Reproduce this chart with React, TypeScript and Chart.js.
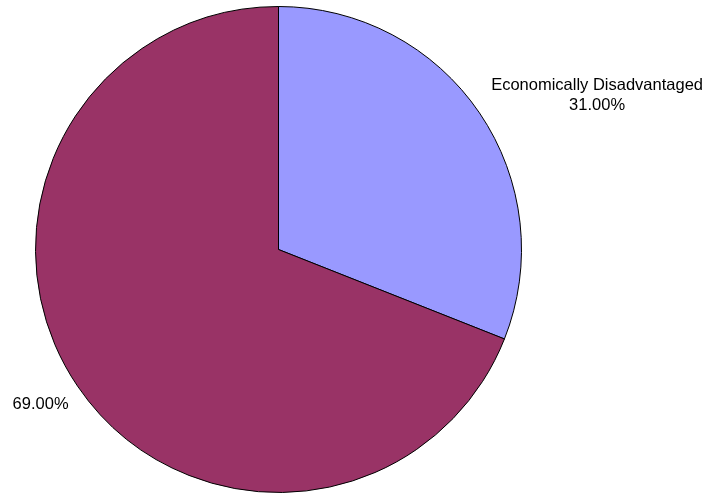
import React, { useEffect, useRef } from "react";
import { Chart, registerables } from "chart.js";

Chart.register(...registerables);

const categories = ["Economically Disadvantaged", ""];
const values = [31.0, 69.0];
const colors = ["#9999FF", "#993366"];

// label anchors relative to pie center, in units of radius
const labelOffsets = [
  { dx: 1.311, dy: -0.635 },
  { dx: -0.979, dy: 0.636 },
];

const labelPlugin = {
  id: "sliceLabels",
  afterDatasetsDraw(chart: any) {
    const ctx = chart.ctx;
    const meta = chart.getDatasetMeta(0);
    ctx.save();
    ctx.font = "16.5px 'Liberation Sans', Arial, sans-serif";
    ctx.fillStyle = "#000";
    ctx.textAlign = "center";
    ctx.textBaseline = "middle";
    meta.data.forEach((arc: any, i: number) => {
      const { x, y, outerRadius } = arc.getProps(["x", "y", "outerRadius"], true);
      const off = labelOffsets[i];
      const cx = x + off.dx * outerRadius;
      const cy = y + off.dy * outerRadius;
      const pct = values[i].toFixed(2) + "%";
      const lines = categories[i] ? [categories[i], pct] : [pct];
      const lh = 20;
      const start = cy - ((lines.length - 1) * lh) / 2;
      lines.forEach((t, k) => ctx.fillText(t, cx, start + k * lh));
    });
    ctx.restore();
  },
};

export default function App() {
  const ref = useRef<HTMLCanvasElement>(null);
  useEffect(() => {
    if (!ref.current) return;
    const chart = new Chart(ref.current, {
      type: "pie",
      data: {
        labels: categories,
        datasets: [
          {
            data: values,
            backgroundColor: colors,
            borderColor: "#000000",
            borderWidth: 1,
          },
        ],
      },
      options: {
        responsive: false,
        animation: false,
        layout: { padding: { left: 35, right: 190, top: 6, bottom: 3 } },
        plugins: {
          legend: { display: false },
          tooltip: { enabled: false },
        },
      },
      plugins: [labelPlugin],
    });
    return () => chart.destroy();
  }, []);
  return (
    <div style={{ position: "fixed", left: 0, top: 0, width: 712, height: 496, background: "#fff" }}>
      <canvas ref={ref} width={712} height={496} />
    </div>
  );
}
